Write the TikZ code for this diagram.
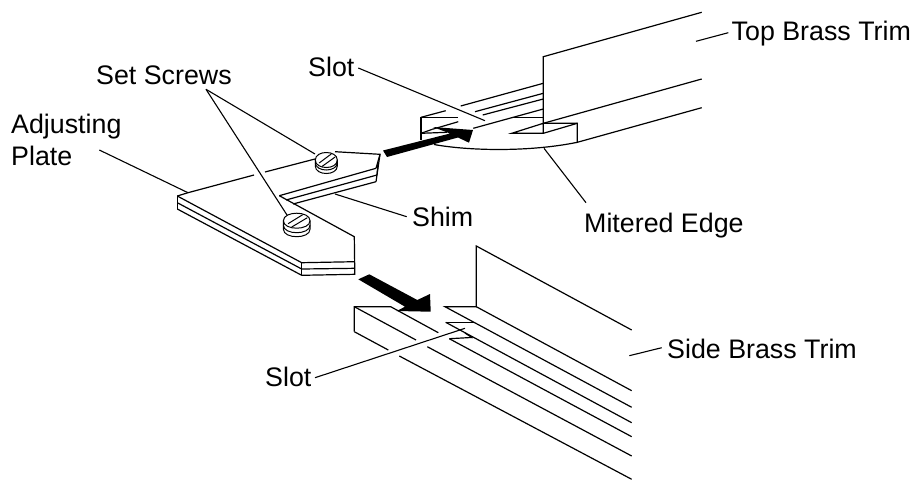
\documentclass[tikz,border=0pt]{standalone}
\usepackage{fontspec}
\setmainfont{Liberation Sans}
% screw: #1 centre x, #2 centre y, #3 rx, #4 ry, #5 height, #6 mid height
\newcommand{\myscrew}[6]{%
 \begin{scope}[shift={(#1,#2)}]
  \path[fill=white] (-#3,0) .. controls (-#3,-#4*1.333) and (#3,-#4*1.333) .. (#3,0)
     -- (#3,#5) .. controls (#3,#5+#4*1.333) and (-#3,#5+#4*1.333) .. (-#3,#5) -- cycle;
  \draw[screwline] (-#3,0) .. controls (-#3,-#4*1.333) and (#3,-#4*1.333) .. (#3,0)
     .. controls (#3,#4*1.333) and (-#3,#4*1.333) .. (-#3,0);
  \draw[screwline] (-#3,0)--(-#3,#5) .. controls (-#3,#5+#4*1.333) and (#3,#5+#4*1.333) .. (#3,#5)--(#3,0);
  \draw[screwline] (-#3,#6) .. controls (-#3,#6+#4*1.333) and (#3,#6+#4*1.333) .. (#3,#6);
  \draw[screwline] (-#3*0.65,#4*0.4)--(#3*0.45,-#4*0.8);
  \draw[screwline] (-#3*0.38,#4*0.85)--(#3*0.8,-#4*0.4);
 \end{scope}}
\begin{document}
\begin{tikzpicture}[x=1pt,y=-1pt,
  edge/.style={draw=black,line width=1.2pt,line join=miter},
  screwline/.style={draw=black,line width=1pt},
  leader/.style={draw=black,line width=1.1pt},
  blockarrow/.style={fill=black,draw=none},
  lab/.style={inner sep=0pt,anchor=base west,font=\fontsize{26.8}{31}\selectfont,align=left}]
\useasboundingbox (0,0) rectangle (917,480);
\fill[white] (0,0) rectangle (917,480);
% labels
\node[lab] (settxt) at (96,84) {Set Screws};
\node[lab] (adj1) at (11,133.3) {Adjusting};
\node[lab] (adj2) at (11,165) {Plate};
\node[lab] (slottop) at (308,76.7) {Slot};
\node[lab] (toptxt) at (731.5,40) {Top Brass Trim};
\node[lab] (shimtxt) at (412,226.7) {Shim};
\node[lab] (mittxt) at (584,232.7) {Mitered Edge};
\node[lab] (sidetxt) at (667,358.3) {Side Brass Trim};
\node[lab] (slotlow) at (265,386.7) {Slot};
% leader end coordinates
\coordinate (setA) at (206,89.3);
\coordinate (setB) at (315,154);
\coordinate (setC) at (287,215);
\coordinate (adjA) at (99.3,150);
\coordinate (adjB) at (188,192.7);
\coordinate (shimA) at (335,194);
\coordinate (shimB) at (406.7,216.7);
\coordinate (slA) at (358.3,68);
\coordinate (slB) at (485,120.7);
\coordinate (mitA) at (544,148.3);
\coordinate (mitB) at (586,202.7);
\coordinate (topA) at (696,41.3);
\coordinate (topB) at (728.3,32.7);
\coordinate (sideA) at (629.3,355.7);
\coordinate (sideB) at (661.7,347.7);
\coordinate (sl2A) at (315,377.7);
\coordinate (sl2B) at (465,328.3);
\draw[leader] (setA)--(setB);
\draw[leader] (setA)--(setC);
\draw[leader] (adjA)--(adjB);
\draw[leader] (shimA)--(shimB);
\draw[leader] (slA)--(slB);
\draw[leader] (mitA)--(mitB);
\draw[leader] (topA)--(topB);
\draw[leader] (sideA)--(sideB);
\draw[leader] (sl2A)--(sl2B);
% adjusting plate
\draw[edge] (177.3,196)--(188,192.7)--(254,175);
\draw[edge] (265,172)--(315,159);
\draw[edge] (335,151.7)--(380,154.3)--(376,181.7);
\draw[edge] (380,154.3)--(376,168.3);
\draw[edge] (378,163)--(377,175);
\draw[edge] (279.3,195.7)--(376,168.3);
\draw[edge] (286,200)--(377,175);
\draw[edge] (293,204)--(376,181.7);
\draw[edge] (279.3,195.7)--(354.3,236.7)--(354.8,274.3)--(301.7,275.3)--(177.3,209);
\draw[edge] (177.3,196)--(301.7,262.7)--(354.3,261.7);
\draw[edge] (177.3,202.7)--(301.7,269)--(354.5,268.3);
\draw[edge] (301.7,262.7)--(301.7,275.3);
\draw[edge] (177.3,196)--(177.3,209);
% screws
\myscrew{296.7}{220.7}{13.3}{7.5}{8.5}{4.5}
\myscrew{326.3}{160}{11}{7.5}{6}{2.5}
% top trim
\draw[edge] (701.7,12.3)--(543.3,56.7)--(543.3,133.3)--(511.7,133.3)--(543.3,123.3)--(701.7,79);
\draw[edge] (543.3,123.3)--(577.3,123.3)--(577.3,142.3)--(701.7,107.7);
\draw[edge] (543.3,133.3)--(577.3,123.3);
\draw[edge] (421,117.3)--(421,140);
\draw[edge] (421,117.3)--(445.7,110.7);
\draw[edge] (460.7,106)--(543.3,83.3);
\draw[edge] (421,117.3)--(458.3,117.3);
\draw[edge] (511.7,117.3)--(543.3,117.3);
\draw[edge] (475,111.7)--(543.3,93.3);
\draw[edge] (482.7,115)--(543.3,99);
\draw[edge] (473.3,128.3)--(543.3,109);
\draw[edge] (432.3,129.3)--(458.3,121.7);
\draw[edge] (421,133.3)--(447,132.3);
\draw[edge] (421,133.3)--(432.3,129.3);
\draw[edge] (434,144.5) .. controls (470,151) and (530,152) .. (577.3,142.3);
% top arrow
\fill[blockarrow] (383,150.5)--(450,133.5)--(433,127)--(473,130)--(469,142.7)--(458,137.5)--(387,157)--cycle;
% side trim
\draw[edge] (631.7,330)--(476.3,246)--(476.3,306.7)--(445,306.7)--(631.7,407.3);
\draw[edge] (476.3,306.7)--(631.7,390.7);
\draw[edge] (445.7,322.3)--(474,322.3);
\draw[edge] (445.7,322.3)--(631.7,422.7);
\draw[edge] (449.3,338.7)--(471,337.5);
\draw[edge] (449.3,338.7)--(631.7,436.7);
\draw[edge] (465,333)--(472.5,338);
\draw[edge] (354.3,331.7)--(354.3,306.7)--(390.7,306.7)--(438.3,332.7);
\draw[edge] (354.3,306.7)--(416,340);
\draw[edge] (427.3,346.7)--(631.7,456);
\draw[edge] (354.3,331.7)--(388.3,350);
\draw[edge] (399.3,356)--(631.7,479.3);
% bottom arrow
\fill[blockarrow] (358.3,279.3)--(369.3,274.3)--(417.3,300)--(430,294)--(430.7,311.7)--(396.7,311)--(405,306.7)--cycle;
\end{tikzpicture}
\end{document}
